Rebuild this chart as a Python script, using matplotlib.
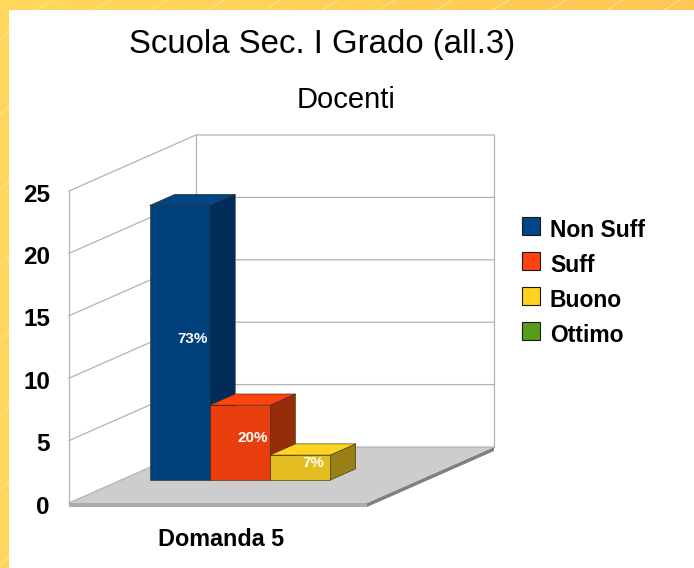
#!/usr/bin/env python3
"""Pseudo-3D bar chart, Scuola Sec. I Grado, Domanda 5."""

import matplotlib
matplotlib.use("Agg")
import matplotlib.pyplot as plt
from matplotlib.patches import Polygon, Rectangle
import numpy as np

plt.rcParams["font.family"] = ["Liberation Sans", "DejaVu Sans"]

series = ["Non Suff", "Suff", "Buono", "Ottimo"]
values = [22, 6, 2, 0]
labels = ["73%", "20%", "7%", None]
ticks = [0, 5, 10, 15, 20, 25]
category = "Domanda 5"
title = "Scuola Sec. I Grado (all.3)"
subtitle = "Docenti"

# front, top, side
colors = [
    ("#00407c", "#004586", "#002c5c"),
    ("#e83e0d", "#ff420e", "#962d0a"),
    ("#e4bd20", "#ffd320", "#998014"),
    ("#4f8f19", "#579d1c", "#345e11"),
]

# projection, figure pixels
X0, Y0 = 69.0, 503.0
PLOT_W = 298.0
PX_PER_UNIT = 12.48
DX, DY = 127.0, -56.0
BAR_FRONT, BAR_BACK = 0.41, 0.61
YMAX = 25


def project(x, v, d=0.0):
    """x: 0-1 across the category, v: data value, d: 0 front to 1 back."""
    return X0 + x * PLOT_W + d * DX, Y0 - v * PX_PER_UNIT + d * DY


def poly(ax, pts, fc, ec="none", lw=0.0, z=1):
    ax.add_patch(Polygon(pts, closed=True, facecolor=fc, edgecolor=ec, linewidth=lw, zorder=z, joinstyle="round"))


def draw_background(ax):
    ax.add_patch(Rectangle((0, 0), 694, 568, facecolor="white", edgecolor="none", zorder=0))
    grad = np.linspace(0, 1, 256)[None, :, None]
    left = np.array([1.0, 0.85, 0.36])[None, None, :]
    right = np.array([1.0, 0.78, 0.34])[None, None, :]
    band = left * (1 - grad) + right * grad
    ax.imshow(band, extent=(0, 694, 10, 0), aspect="auto", zorder=0.5)
    ax.add_patch(Rectangle((0, 0), 9, 568, facecolor="#ffd75b", edgecolor="none", zorder=0.5))
    # faint diagonal streaks on the frame
    for start in range(-20, 720, 57):
        ax.plot([start, start + 16], [10, 0], color="#ffe48f", lw=0.7, zorder=0.6)
    for start in range(40, 568, 75):
        ax.plot([0, 9], [start, start - 9], color="#ffe48f", lw=0.7, zorder=0.6)


def draw_walls(ax):
    grid = "#b3b3b3"
    # floor with its lip
    a, b = project(0, 0), project(1, 0)
    c, d = project(1, 0, 1), project(0, 0, 1)
    lip = 4
    poly(ax, [a, b, (b[0], b[1] + lip), (a[0], a[1] + lip)], "#ababab", z=1)
    poly(ax, [b, c, (c[0], c[1] + lip), (b[0], b[1] + lip)], "#808080", z=1)
    poly(ax, [a, b, c, d], "#cdcdcd", z=1.1)
    for t in ticks:
        p0, p1, p2 = project(0, t), project(0, t, 1), project(1, t, 1)
        ax.plot([p0[0], p1[0], p2[0]], [p0[1], p1[1], p2[1]], color=grid, lw=0.9, zorder=1.2)
        ax.text(50, p0[1] + 4, str(t), ha="right", va="center", fontsize=17.5, fontweight="bold", color="black", zorder=5)
    for pts in [
        (project(0, 0), project(0, YMAX)),
        (project(0, 0, 1), project(0, YMAX, 1)),
        (project(1, 0, 1), project(1, YMAX, 1)),
    ]:
        ax.plot([pts[0][0], pts[1][0]], [pts[0][1], pts[1][1]], color=grid, lw=0.9, zorder=1.2)


def draw_bars(ax):
    n = len(values)
    gap = 28.5 / PLOT_W
    width = (1 - 2 * gap) / n
    edge = "#2b2b10"
    for i, v in enumerate(values):
        if v == 0:
            continue
        x0, x1 = gap + i * width, gap + (i + 1) * width
        front, top, side = colors[i]
        f = [project(x0, 0, BAR_FRONT), project(x1, 0, BAR_FRONT), project(x1, v, BAR_FRONT), project(x0, v, BAR_FRONT)]
        t = [project(x0, v, BAR_FRONT), project(x1, v, BAR_FRONT), project(x1, v, BAR_BACK), project(x0, v, BAR_BACK)]
        s = [project(x1, 0, BAR_FRONT), project(x1, 0, BAR_BACK), project(x1, v, BAR_BACK), project(x1, v, BAR_FRONT)]
        z = 2 + i
        poly(ax, s, side, edge, 0.4, z)
        poly(ax, t, top, edge, 0.4, z)
        poly(ax, f, front, edge, 0.4, z)
        if labels[i]:
            lx, ly = project((x0 + x1) / 2, v / 2, (BAR_FRONT + BAR_BACK) / 2)
            ax.text(lx, ly + 1.5, labels[i], ha="center", va="center", fontsize=11, fontweight="bold", color="white", zorder=8)


def draw_legend(ax):
    for i, name in enumerate(series):
        y = 216.5 + i * 35
        ax.add_patch(Rectangle((522, y), 18, 18, facecolor=colors[i][1], edgecolor="#1a1a1a", linewidth=0.8, zorder=5))
        ax.text(550, y + 14, name, ha="left", va="center", fontsize=16.5, fontweight="bold", color="black", zorder=5)


def main():
    fig = plt.figure(figsize=(6.94, 5.68), dpi=100)
    ax = fig.add_axes([0, 0, 1, 1])
    draw_background(ax)
    draw_walls(ax)
    draw_bars(ax)
    draw_legend(ax)
    ax.text(322, 44, title, ha="center", va="center", fontsize=23.8, color="black")
    ax.text(346, 100, subtitle, ha="center", va="center", fontsize=21, color="black")
    ax.text(221, 539, category, ha="center", va="center", fontsize=16.8, fontweight="bold", color="black")
    ax.set_xlim(0, 694)
    ax.set_ylim(568, 0)
    ax.axis("off")
    fig.savefig("out.png", dpi=100)
    plt.close(fig)


if __name__ == "__main__":
    main()
